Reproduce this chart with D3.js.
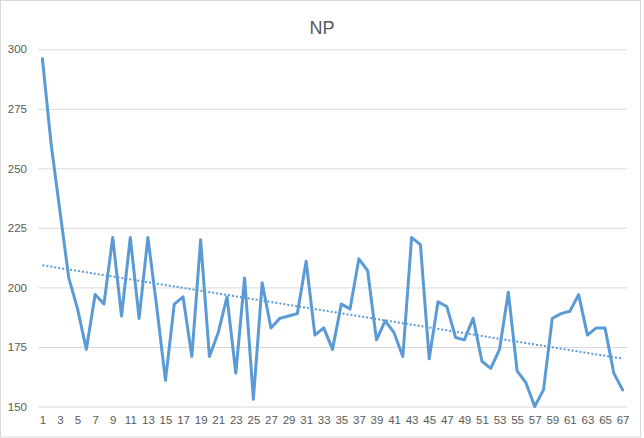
<!DOCTYPE html>
<html>
<head>
<meta charset="utf-8">
<script src="https://cdn.jsdelivr.net/npm/d3@7"></script>
<style>
  html, body { margin: 0; padding: 0; background: #fff; }
  svg { display: block; }
  text { font-family: "Liberation Sans", Arial, sans-serif; fill: #595959; }
</style>
</head>
<body>
<svg id="chart" width="644" height="438"></svg>
<script>
const title = "NP";
const categories = d3.range(1, 68);
const values = [296,260,232,204,191,174,197,193,221,188,
                221,187,221,192,161,193,196,171,220,171,
                181,196,164,204,153,202,183,187,188,189,
                211,180,183,174,193,191,212,207,178,186,
                181,171,221,218,170,194,192,179,178,187,
                169,166,174,198,165,160,150,157,187,189,
                190,197,180,183,183,164,157];
const yTicks = [150, 175, 200, 225, 250, 275, 300];
const xTickLabels = categories.filter(c => c % 2 === 1);

const svg = d3.select("#chart");
const W = 644, H = 438;
const plot = { left: 38, right: 627, top: 49.3, bottom: 406.5 };

// chart area border
svg.append("rect").attr("x", 0.5).attr("y", 0.5).attr("width", 640).attr("height", 436.5)
  .attr("fill", "#fff").attr("stroke", "#D9D9D9").attr("stroke-width", 1);

const x = d3.scalePoint().domain(categories).range([plot.left, plot.right]).padding(0.5);
const y = d3.scaleLinear().domain([150, 300]).range([plot.bottom, plot.top]);

// gridlines
const yAxis = d3.axisLeft(y).tickValues(yTicks).tickSize(-(plot.right - plot.left)).tickPadding(11);
const gy = svg.append("g").attr("transform", `translate(${plot.left},0)`).call(yAxis);
gy.select(".domain").remove();
gy.selectAll(".tick line").attr("stroke", "#D9D9D9").attr("stroke-width", 1);
gy.selectAll(".tick text").attr("font-size", 11.5).attr("fill", "#595959");

// x axis
const xAxis = d3.axisBottom(x).tickValues(xTickLabels).tickSize(0).tickPadding(9);
const gx = svg.append("g").attr("transform", `translate(0,${plot.bottom})`).call(xAxis);
gx.select(".domain").remove();
gx.selectAll(".tick text").attr("font-size", 11.5).attr("fill", "#595959");

// trendline (least squares)
const n = values.length;
const xs = categories;
const mx = d3.mean(xs), my = d3.mean(values);
const slope = d3.sum(xs.map((c, i) => (c - mx) * (values[i] - my))) / d3.sum(xs.map(c => (c - mx) ** 2));
const intercept = my - slope * mx;
const trend = [categories[0], categories[n - 1]].map(c => ({ c, v: intercept + slope * c }));

const line = d3.line().x(d => x(d.c)).y(d => y(d.v));

svg.append("path")
  .datum(categories.map((c, i) => ({ c, v: values[i] })))
  .attr("d", line)
  .attr("fill", "none")
  .attr("stroke", "#5B9BD5")
  .attr("stroke-width", 3)
  .attr("stroke-linejoin", "round")
  .attr("stroke-linecap", "round");

svg.append("path")
  .datum(trend)
  .attr("d", line)
  .attr("fill", "none")
  .attr("stroke", "#5B9BD5")
  .attr("stroke-width", 2)
  .attr("stroke-dasharray", "2,2");

// title
svg.append("text").attr("x", 322).attr("y", 34).attr("text-anchor", "middle")
  .attr("font-size", 18).attr("fill", "#595959").text(title);
</script>
</body>
</html>
